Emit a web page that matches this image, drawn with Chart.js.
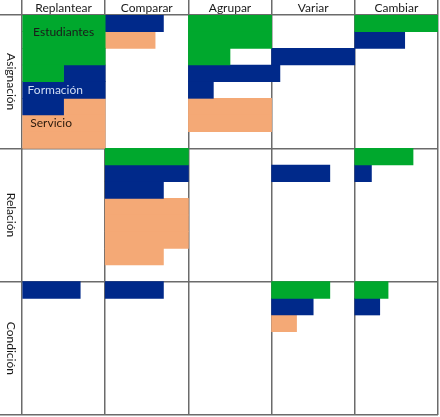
<!DOCTYPE html>
<html>
<head>
<meta charset="utf-8">
<script src="https://cdn.jsdelivr.net/npm/chart.js@4"></script>
<style>
    body { margin: 0; background: #fff; }
    canvas { display: block; }
</style>
</head>
<body>
<canvas id="grid-chart" width="440" height="417"></canvas>
<script>
const columns = ["Replantear", "Comparar", "Agrupar", "Variar", "Cambiar"]
const rows = ["Asignación", "Relación", "Condición"]
const slotsPerRow = 8 // franjas por fila
const fullCell = 10 // largo de una barra que llena la celda

// largo de cada franja (de arriba a abajo), una lista por columna, una fila por categoria
const estudiantes = [
    [[10, 10, 10, 5], [], [10, 10, 5], [], [10]],
    [[], [10], [], [], [7]],
    [[], [], [], [7], [4]]
]
const formacion = [
    [[0, 0, 0, 5, 10, 5], [7], [0, 0, 0, 11, 3], [0, 0, 10], [0, 6]],
    [[], [0, 10, 7], [], [0, 7], [0, 2]],
    [[7], [7], [], [0, 5], [0, 3]]
]
const servicio = [
    [[0, 0, 0, 0, 0, 5, 10, 10], [0, 6], [0, 0, 0, 0, 0, 10, 10], [], []],
    [[], [0, 0, 0, 10, 10, 10, 7], [], [], []],
    [[], [], [], [0, 0, 3], []]
]

const series = [
    { label: "Estudiantes", values: estudiantes, color: "#00a82d", text: "#1a1a1a" },
    { label: "Formación", values: formacion, color: "#00298a", text: "#cfdcf3" },
    { label: "Servicio", values: servicio, color: "#f4a976", text: "#2b1a0c" }
]

const lineColor = "#6b6b6b"

const slotLabels = []
rows.forEach((r, ri) => {
    for (let s = 0; s < slotsPerRow; s++) slotLabels.push(r + " " + (s + 1))
})

// barras flotantes: cada color empieza donde termina el anterior en la misma franja
const datasets = series.map(s => ({ label: s.label, data: [], backgroundColor: s.color, borderWidth: 0 }))
rows.forEach((r, ri) => {
    columns.forEach((c, ci) => {
        for (let s = 0; s < slotsPerRow; s++) {
            let start = ci * fullCell
            series.forEach((ser, k) => {
                const len = ser.values[ri][ci][s] || 0
                if (len > 0) {
                    datasets[k].data.push({ y: slotLabels[ri * slotsPerRow + s], x: [start, start + len] })
                    start += len
                }
            })
        }
    })
})

// textos dentro de la primera celda (Replantear / Asignación)
const inBarLabels = [
    { text: "Estudiantes", slot: 0.5, x: 5.0, color: series[0].text },
    { text: "Formación", slot: 4, x: 4.0, color: series[1].text },
    { text: "Servicio", slot: 6, x: 3.5, color: series[2].text }
]

const textPlugin = {
    id: "gridTexts",
    afterDatasetsDraw(chart) {
        const ctx = chart.ctx
        const xs = chart.scales.x
        const ys = chart.scales.y
        ctx.save()
        ctx.font = "12px Lato"
        ctx.textAlign = "center"
        ctx.textBaseline = "middle"

        // encabezados de columnas
        ctx.fillStyle = "#1a1a1a"
        columns.forEach((c, i) => {
            ctx.fillText(c, xs.getPixelForValue(i * fullCell + fullCell / 2), 8)
        })

        // nombres de filas, girados
        const rowH = (chart.chartArea.bottom - chart.chartArea.top) / rows.length
        rows.forEach((r, i) => {
            ctx.save()
            ctx.translate(11, chart.chartArea.top + rowH * (i + 0.5))
            ctx.rotate(Math.PI / 2)
            ctx.fillText(r, 0, 0)
            ctx.restore()
        })

        inBarLabels.forEach(l => {
            ctx.fillStyle = l.color
            ctx.fillText(l.text, xs.getPixelForValue(l.x), ys.getPixelForValue(l.slot))
        })
        ctx.restore()
    }
}

new Chart(document.getElementById("grid-chart"), {
    type: "bar",
    data: { labels: slotLabels, datasets: datasets },
    options: {
        responsive: false,
        animation: false,
        indexAxis: "y",
        layout: { padding: { right: 2, bottom: 2 } },
        datasets: {
            bar: { grouped: false, categoryPercentage: 1, barPercentage: 1 }
        },
        scales: {
            x: {
                type: "linear",
                position: "top",
                min: 0,
                max: columns.length * fullCell,
                ticks: { stepSize: fullCell, display: false },
                grid: { color: lineColor, lineWidth: 1.5, drawTicks: true, tickLength: 15 },
                border: { display: false }
            },
            y: {
                type: "category",
                offset: true,
                ticks: { display: false },
                grid: {
                    offset: true,
                    lineWidth: 1.5,
                    tickLength: 22,
                    color: c => (c.type !== "tick" || c.index % slotsPerRow === 0) ? lineColor : "rgba(0,0,0,0)"
                },
                border: { display: false }
            }
        },
        plugins: {
            legend: { display: false },
            tooltip: { enabled: false }
        }
    },
    plugins: [textPlugin]
})
</script>
</body>
</html>
